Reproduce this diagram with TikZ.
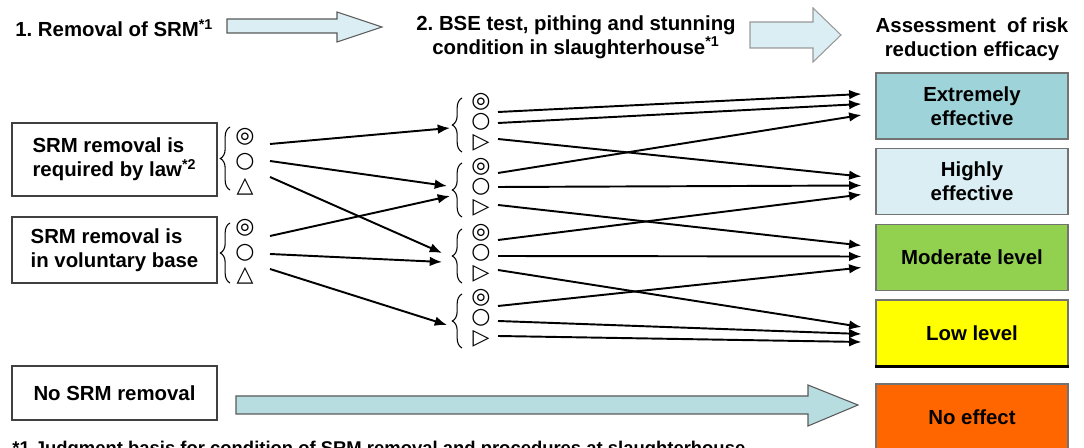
\documentclass[tikz,border=0pt]{standalone}
\usepackage{fontspec}
\setmainfont{Liberation Sans}
\newfontfamily\symfont{DejaVu Sans}
\usetikzlibrary{calc,arrows.meta,decorations.pathreplacing}

\definecolor{arrowlight}{HTML}{DAEEF3}
\definecolor{arrowdark}{HTML}{B7DDE1}
\definecolor{extcol}{HTML}{9ED3D9}
\definecolor{highcol}{HTML}{DAEEF3}
\definecolor{modcol}{HTML}{92D050}
\definecolor{lowcol}{HTML}{FFFF00}
\definecolor{nonecol}{HTML}{FF6600}

\frenchspacing
\newcommand\lblfont{\fontsize{11.6}{13.8}\selectfont\bfseries}
\newcommand\notefont{\fontsize{10.5}{12}\selectfont\bfseries}

\tikzset{
  lbl/.style={font=\lblfont, inner sep=0pt, align=center},
  lbox/.style={draw=black!75, line width=0.6pt, font=\lblfont, minimum width=4.1cm,
    align=left, inner sep=0pt},
  rbox/.style={draw=black!55, line width=0.7pt, font=\lblfont, align=center,
    inner sep=0pt, minimum width=3.84cm, minimum height=1.32cm},
  sym/.style={font=\symfont\fontsize{12.5}{12.5}\selectfont, inner sep=0pt},
  brc/.style={decorate, decoration={brace, amplitude=5.5pt}, line width=0.6pt},
  arr/.style={-{Latex[length=7pt,width=5.5pt]}, line width=1.1pt},
  blk/.style={draw=black!65, line width=0.6pt}
}

\begin{document}
\begin{tikzpicture}[x=0.02cm,y=-0.02cm]
  \useasboundingbox (0,0) rectangle (1084,448);
  \clip (0,0) rectangle (1084,448);
  %%%%% START %%%%%
  % headings
  \node[lbl, anchor=base west] (head1) at (15,37) {1. Removal of SRM\textsuperscript{*1}};
  \node[lbl] (head2) at (576,37) {2. BSE test, pithing and stunning\\condition in slaughterhouse\textsuperscript{*1}};
  \node[lbl] (head3) at (972,39) {Assessment\ \ of risk\\reduction efficacy};

  % block arrows
  \draw[blk, fill=arrowlight] (227,19) -- (337,19) -- (337,12) -- (382,27) -- (337,42) -- (337,33) -- (227,33) -- cycle;
  \draw[blk, draw=black!40, fill=arrowlight] (750,22) -- (813,22) -- (813,8) -- (841,35) -- (813,62) -- (813,48) -- (750,48) -- cycle;
  \draw[blk, fill=arrowdark] (236,396) -- (808,396) -- (808,385) -- (858,405) -- (808,426) -- (808,414) -- (236,414) -- cycle;

  % left boxes
  \node[lbox, minimum height=1.46cm] (law) at (114.5,159.5) {SRM removal is\\required by law\textsuperscript{*2}};
  \node[lbox, minimum height=1.32cm] (vol) at (114.5,250) {SRM removal is\\in voluntary base};
  \node[lbox, minimum height=1.08cm] (nosrm) at (114.5,393) {No SRM removal};

  % right boxes
  \node[rbox, fill=extcol] (ext) at (972,106) {Extremely\\effective};
  \node[rbox, fill=highcol] (high) at (972,181.5) {Highly\\effective};
  \node[rbox, fill=modcol] (mod) at (972,257.5) {Moderate level};
  \node[rbox, fill=lowcol] (low) at (972,333) {Low level};
  \draw[line width=1.6pt] (low.south west) -- (low.south east);
  \node[rbox, fill=nonecol] (none) at (972,417) {No effect};

  % left symbols
  \node[sym] (l1a) at (245,137) {◎};
  \node[sym] (l1b) at (245,162) {○};
  \node[sym] (l1c) at (245,187) {△};
  \node[sym] (l2a) at (245,228) {◎};
  \node[sym] (l2b) at (245,253) {○};
  \node[sym] (l2c) at (245,276) {△};
  \draw[brc] (230,190) -- (230,127);
  \draw[brc] (230,283) -- (230,223);

  % middle symbols
  \foreach \g/\y in {A/102,B/167,C/233,D/298}{
    \node[sym] (m\g a) at (481,\y) {◎};
    \node[sym] (m\g b) at (481,\y+20) {○};
    \node[sym] (m\g c) at (481,\y+41) {▷};
    \draw[brc] (462,\y+50) -- (462,\y-4);
    \coordinate (t\g) at (452,\y+27);
  }

  % removal -> slaughterhouse
  \foreach \a/\dy/\b/\ex/\ey in {l1a/7/tA/-2/-1, l1b/-1/tB/-5/-8, l1c/-10/tC/-10/-7,
      l2a/8/tB/-2/2, l2b/1/tC/-10/2, l2c/-7/tD/-5/0}
    \draw[arr] ($(\a)+(25,\dy)$) -- ($(\b)+(\ex,\ey)$);

  % slaughterhouse -> assessment
  \foreach \a/\dy/\b/\ey in {mAa/10/ext/-12, mAb/1/ext/-2, mAc/-4/high/-5,
      mBa/6/ext/9, mBb/0/high/4, mBc/-3/mod/-12,
      mCa/7/high/13, mCb/3/mod/-1, mCc/-4/low/-6,
      mDa/8/mod/10, mDb/3/low/1, mDc/-3/low/9}
    \draw[arr] ($(\a)+(17,\dy)$) -- ($(\b.west)+(-14,\ey)$);

  % footnote
  \node[font=\notefont, inner sep=0pt, anchor=base west] (note) at (12,455)
    {*1 Judgment basis for condition of SRM removal and procedures at slaughterhouse};
  %%%%% END %%%%%
\end{tikzpicture}
\end{document}
